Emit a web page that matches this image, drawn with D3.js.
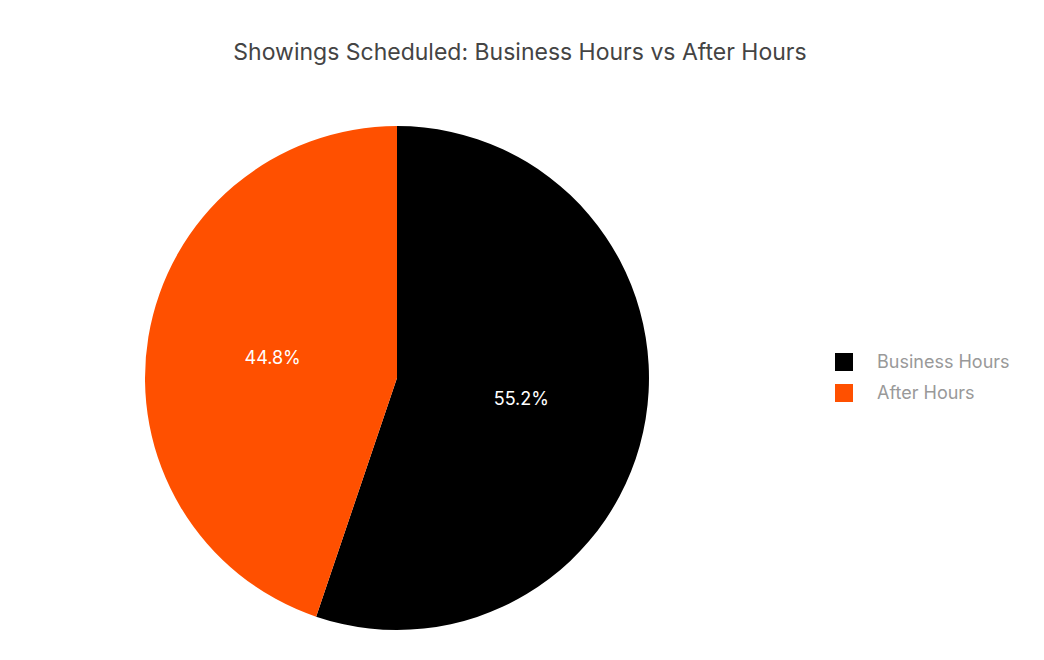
<!DOCTYPE html>
<html><head><meta charset="utf-8">
<script src="https://cdn.jsdelivr.net/npm/d3@7"></script>
<style>body{margin:0;background:#fff;font-family:Inter,"Noto Sans",sans-serif}</style>
</head><body><svg id="c" width="1044" height="660"></svg>
<script>
const categories = ["Business Hours", "After Hours"];
const values = [55.2, 44.8];
const colors = ["#000000", "#FF5000"];
const title = "Showings Scheduled: Business Hours vs After Hours";

const svg = d3.select("#c");
const cx = 397, cy = 378, r = 252;
svg.append("text").attr("x", 520).attr("y", 60).attr("text-anchor", "middle")
  .attr("font-size", 23).attr("fill", "#444").text(title);

const pie = d3.pie().sort(null).value(d => d)(values);
const arc = d3.arc().innerRadius(0).outerRadius(r);
const g = svg.append("g").attr("transform", `translate(${cx},${cy})`);
g.selectAll("path").data(pie).join("path").attr("d", arc).attr("fill", (d, i) => colors[i]);
const lab = d3.arc().innerRadius(r * 0.5).outerRadius(r * 0.5);
g.selectAll("text").data(pie).join("text")
  .attr("transform", d => `translate(${lab.centroid(d)})`)
  .attr("text-anchor", "middle").attr("dy", "0.35em")
  .attr("font-size", 18).attr("fill", "#fff")
  .text(d => d.value.toFixed(1) + "%");

const leg = svg.append("g").attr("transform", "translate(835,353)");
categories.forEach((c, i) => {
  leg.append("rect").attr("x", 0).attr("y", i * 31).attr("width", 18).attr("height", 18).attr("fill", colors[i]);
  leg.append("text").attr("x", 42).attr("y", i * 31 + 9).attr("dy", "0.35em")
    .attr("font-size", 18).attr("fill", "#999").text(c);
});
</script></body></html>
